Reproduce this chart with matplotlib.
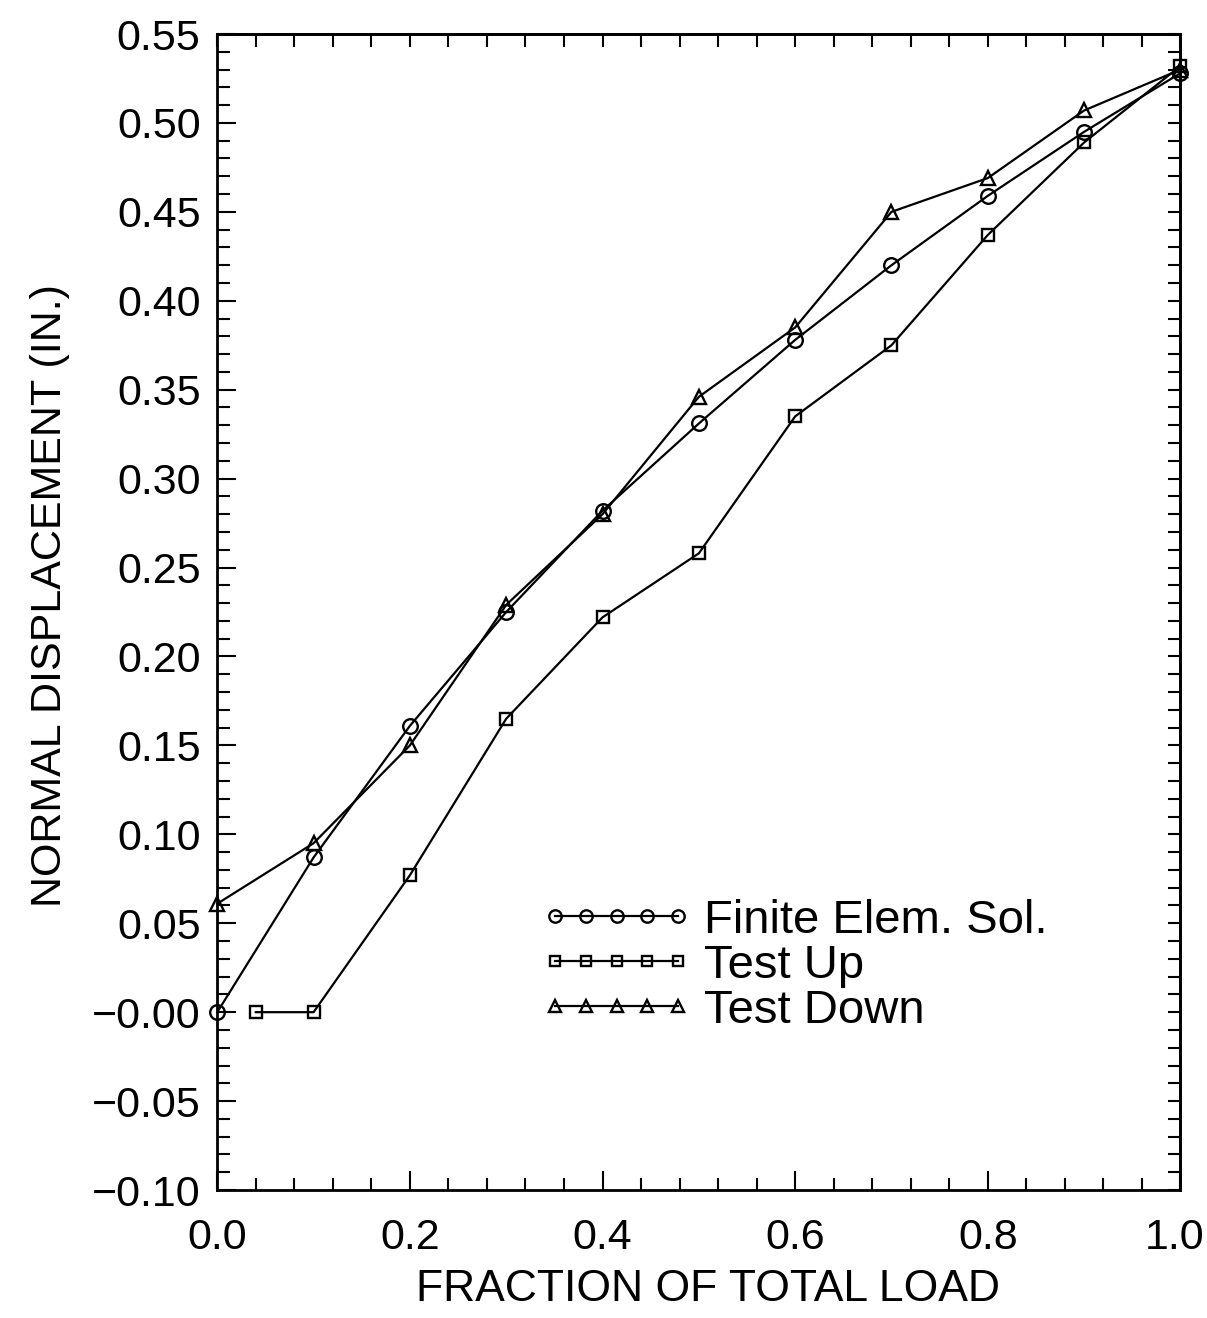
import numpy as np
import matplotlib
matplotlib.use("Agg")
import matplotlib.pyplot as plt
from matplotlib.ticker import FixedLocator, FixedFormatter
from matplotlib.transforms import ScaledTranslation

# Fraction of total load at each load step
load = [0.0, 0.1, 0.2, 0.3, 0.4, 0.5, 0.6, 0.7, 0.8, 0.9, 1.0]
fe_disp = [0.000, 0.087, 0.161, 0.225, 0.282, 0.331, 0.378, 0.420, 0.459, 0.495, 0.528]

up_load = [0.04, 0.1, 0.2, 0.3, 0.4, 0.5, 0.6, 0.7, 0.8, 0.9, 1.0]
up_disp = [0.000, 0.000, 0.077, 0.165, 0.222, 0.258, 0.335, 0.375, 0.437, 0.489, 0.532]

down_load = [0.0, 0.1, 0.2, 0.3, 0.4, 0.5, 0.6, 0.7, 0.8, 0.9, 1.0]
down_disp = [0.061, 0.095, 0.150, 0.229, 0.280, 0.346, 0.385, 0.450, 0.469, 0.507, 0.530]

series_labels = ["Finite Elem. Sol.", "Test Up", "Test Down"]

x_ticks = [0.0, 0.2, 0.4, 0.6, 0.8, 1.0]
x_tick_labels = ["0.0", "0.2", "0.4", "0.6", "0.8", "1.0"]
y_ticks = [-0.10, -0.05, 0.00, 0.05, 0.10, 0.15, 0.20, 0.25, 0.30, 0.35, 0.40, 0.45, 0.50, 0.55]
y_tick_labels = ["\u22120.10", "\u22120.05", "\u22120.00", "0.05", "0.10", "0.15", "0.20",
                 "0.25", "0.30", "0.35", "0.40", "0.45", "0.50", "0.55"]

plt.rcParams["font.family"] = ["Liberation Sans", "DejaVu Sans"]

fig = plt.figure(figsize=(12.07, 13.18), dpi=100)
ax = fig.add_axes([0.180, 0.0971, 0.798, 0.8771])

line_kw = dict(color="black", lw=1.6, markerfacecolor="none",
               markeredgecolor="black", markeredgewidth=1.7, clip_on=False)
ax.plot(load, fe_disp, marker="o", markersize=10.5, label=series_labels[0], **line_kw)
ax.plot(up_load, up_disp, marker="s", markersize=8.5, label=series_labels[1], **line_kw)
ax.plot(down_load, down_disp, marker="^", markersize=9.5, label=series_labels[2], **line_kw)

ax.set_xlim(0.0, 1.0)
ax.set_ylim(-0.10, 0.55)

ax.xaxis.set_major_locator(FixedLocator(x_ticks))
ax.xaxis.set_major_formatter(FixedFormatter(x_tick_labels))
ax.xaxis.set_minor_locator(FixedLocator(np.arange(0.0, 1.0001, 0.04)))
ax.yaxis.set_major_locator(FixedLocator(y_ticks))
ax.yaxis.set_major_formatter(FixedFormatter(y_tick_labels))
ax.yaxis.set_minor_locator(FixedLocator(np.arange(-0.10, 0.5501, 0.01)))

ax.tick_params(which="major", direction="in", length=14, width=1.5,
               labelsize=31, top=False, right=False)
ax.tick_params(which="minor", direction="in", length=9, width=1.5,
               top=False, right=False)
ax.tick_params(axis="x", which="major", pad=20)
ax.tick_params(axis="y", which="major", pad=12)

# top and right frames carry uniform short ticks without labels
top = ax.secondary_xaxis("top")
top.xaxis.set_major_locator(FixedLocator(np.arange(0.0, 1.0001, 0.04)))
top.tick_params(direction="in", length=9, width=1.5, labeltop=False)
right = ax.secondary_yaxis("right")
right.yaxis.set_major_locator(FixedLocator(np.arange(-0.10, 0.5501, 0.01)))
right.tick_params(direction="in", length=9, width=1.5, labelright=False)

for sp in list(ax.spines.values()) + [top.spines["top"], right.spines["right"]]:
    sp.set_linewidth(2.0)

ax.set_xlabel("FRACTION OF TOTAL LOAD", fontsize=32)
ax.set_ylabel("NORMAL DISPLACEMENT (IN.)", fontsize=31)
ax.xaxis.set_label_coords(0.51, -0.068)
ax.yaxis.set_label_coords(-0.153, 0.514)

leg = ax.legend(loc="upper left", bbox_to_anchor=(541 / 1207, 1 - 899 / 1318),
                bbox_transform=fig.transFigure, frameon=False, numpoints=5,
                handlelength=3.2, handletextpad=0.25, labelspacing=0.02,
                borderpad=0, borderaxespad=0, fontsize=34, markerscale=0.85)

fig.canvas.draw()
# keep the last x tick label inside the canvas
last = ax.get_xticklabels()[-1]
last.set_transform(last.get_transform() + ScaledTranslation(-6 / 100, 0, fig.dpi_scale_trans))

fig.savefig("out.png", dpi=100)
